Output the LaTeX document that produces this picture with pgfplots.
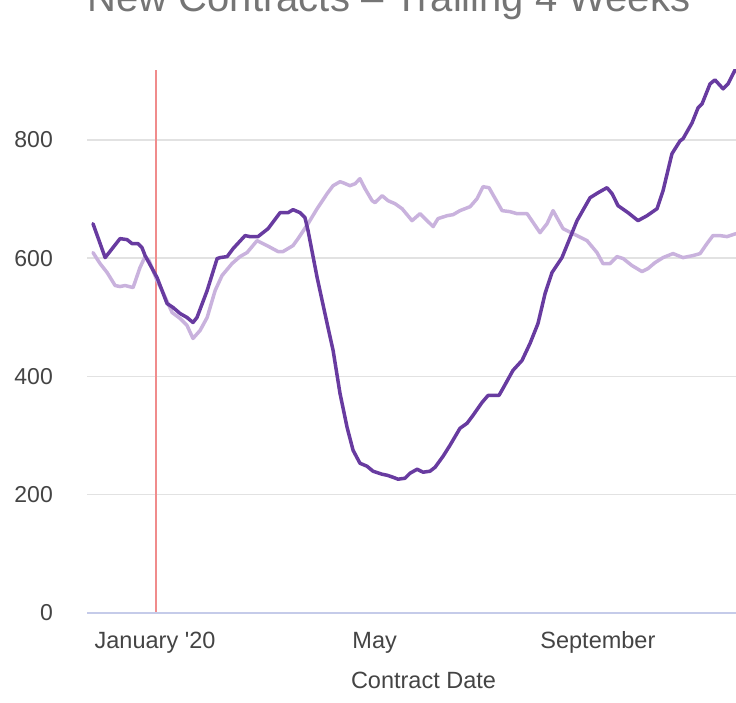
\documentclass[border=0pt]{standalone}
\usepackage{fontspec}
\setmainfont{Liberation Sans}
\usepackage{pgfplots}
\usepackage{pgfplotstable}
\pgfplotsset{compat=1.18}
\definecolor{darkp}{RGB}{104,59,160}
\definecolor{lightp}{RGB}{201,178,221}
\definecolor{gridc}{RGB}{226,226,226}
\definecolor{basec}{RGB}{197,203,233}
\definecolor{redl}{RGB}{240,140,140}
\definecolor{tickc}{RGB}{68,68,68}
\definecolor{titlec}{RGB}{117,117,117}

\pgfplotstableread{
day value
-34.2 658.2
-27.5 600.8
-19.3 632.9
-15.4 631.2
-12.7 624.5
-9.4 624.5
-7.2 617.7
-5.5 604.2
1.1 567.1
6.6 523.2
9.9 516.5
13.8 506.3
17.6 499.6
20.9 491.1
23.1 499.6
28.7 545.1
34.2 599.2
35.8 600.8
39.7 602.5
43.0 616.0
49.6 638.0
52.3 636.3
56.7 636.3
62.3 649.8
68.9 676.8
73.3 676.8
76.0 681.9
79.9 676.8
82.6 668.4
84.3 646.4
89.3 567.1
94.8 489.5
98.1 443.9
101.9 371.3
105.8 313.9
109.1 275.1
112.9 253.2
116.8 248.1
120.1 239.7
125.1 234.6
127.8 232.9
131.1 229.5
133.9 226.2
137.7 227.8
140.5 236.3
144.4 243.0
147.7 238.0
151.5 239.7
154.3 246.4
158.7 265.0
162.5 283.5
168.0 312.2
171.9 320.7
175.2 334.2
180.2 356.1
183.5 367.9
189.5 367.9
191.7 379.7
197.2 410.1
202.2 427.0
206.6 455.7
211.0 489.5
214.9 540.1
218.7 575.5
224.2 600.8
228.7 634.6
232.5 663.3
239.7 702.1
244.1 710.5
249.0 719.0
251.8 708.9
255.1 688.6
260.6 676.8
266.1 663.3
271.1 671.7
276.6 683.5
279.9 713.9
284.8 776.4
289.3 798.3
290.9 801.7
295.9 828.7
299.2 854.0
301.4 860.8
305.8 894.5
308.5 901.3
313.0 886.1
315.7 894.5
319.6 918.1
}\darktable

\pgfplotstableread{
day value
-34.2 609.3
-30.3 590.7
-26.4 575.5
-22.0 553.6
-19.3 551.9
-16.5 553.6
-12.1 550.2
-8.3 584.0
-5.5 602.5
-3.3 595.8
1.1 562.0
3.9 545.1
9.4 508.0
13.8 497.9
17.6 486.1
20.9 464.1
24.8 477.6
28.7 499.6
33.1 545.1
36.9 570.5
42.4 590.7
46.8 602.5
50.7 609.3
56.2 629.5
61.7 621.1
67.8 611.0
70.5 611.0
76.0 621.1
78.8 632.9
84.3 658.2
89.3 683.5
94.8 708.9
98.1 722.4
101.9 729.1
103.6 727.4
107.4 722.4
110.2 725.7
112.9 734.2
115.7 717.3
119.6 697.0
121.2 693.7
125.1 705.5
128.4 697.0
132.2 692.0
136.1 683.5
141.6 663.3
146.0 675.1
149.9 663.3
153.2 653.2
155.9 666.7
160.9 671.7
164.2 673.4
168.0 680.2
173.6 686.9
177.4 700.4
180.7 720.7
184.0 719.0
191.2 680.2
195.6 678.5
199.4 675.1
205.0 675.1
212.1 643.0
216.0 658.2
219.3 680.2
224.8 649.8
230.3 641.4
238.0 629.5
243.5 609.3
246.8 590.7
250.7 590.7
254.5 602.5
257.9 599.2
262.8 587.3
268.3 577.2
271.6 582.3
275.5 592.4
279.9 600.8
285.4 607.6
290.9 600.8
296.4 604.2
300.3 607.6
304.1 624.5
307.4 638.0
311.3 638.0
315.2 636.3
320.1 641.4
}\lighttable

\begin{document}
\begin{tikzpicture}
\useasboundingbox (0pt,0pt) rectangle (736pt,703pt);
\clip (0pt,0pt) rectangle (736pt,703pt);
\node[anchor=base, text=titlec, font=\fontsize{40}{48}\selectfont, inner sep=0pt] at (389pt,691pt) {New Contracts – Trailing 4 Weeks};
\begin{axis}[
  at={(87pt,90pt)}, anchor=south west,
  scale only axis, width=649pt, height=543pt,
  xmin=-37.5, xmax=320.1, ymin=0, ymax=918,
  axis line style={draw=none},
  major tick length=0pt,
  ytick={200,400,600,800},
  extra y ticks={0},
  extra y tick style={grid style={basec, line width=2pt}},
  ymajorgrids, grid style={gridc, line width=1.5pt},
  xtick={0,121,244},
  xticklabels={January \textquotesingle20, May, September},
  extra x ticks={0.5}, extra x tick labels={},
  extra x tick style={grid=major, grid style={redl, line width=1.3pt}},
  /pgf/number format/assume math mode=true,
  y tick label style={anchor=east, inner sep=0pt, xshift=-34pt, font=\fontsize{23}{27}\selectfont, text=tickc},
  x tick label style={anchor=base, inner sep=0pt, yshift=-36pt, font=\fontsize{23.5}{28}\selectfont, text=tickc},
]
\addplot[lightp, line width=3.5pt, line join=round, line cap=round] table {\lighttable};
\addplot[darkp, line width=3.5pt, line join=round, line cap=round] table {\darktable};
\end{axis}
\node[anchor=base, text=tickc, font=\fontsize{23.5}{28}\selectfont, inner sep=0pt] at (423.5pt,14pt) {Contract Date};
\end{tikzpicture}
\end{document}
